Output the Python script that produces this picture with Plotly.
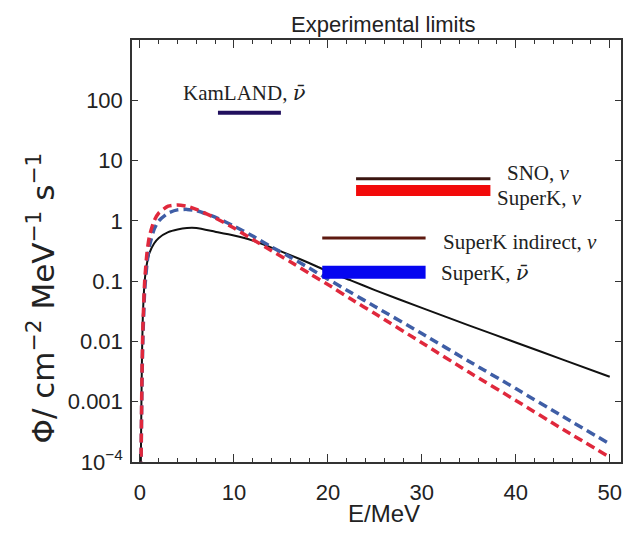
import math
import plotly.graph_objects as go

# ---- model spectra ----
E = [0.05, 0.1, 0.2, 0.3, 0.5, 0.75, 1, 1.5, 2, 3, 4, 5, 6, 8, 10, 12, 14, 16, 18,
     20, 22.5, 25, 30, 35, 40, 45, 50]
flux_solid = [1e-5, 1.5e-4, 0.004, 0.025, 0.1, 0.2, 0.29, 0.42, 0.52, 0.65, 0.72, 0.76,
              0.76, 0.66, 0.57, 0.47, 0.36, 0.27, 0.2, 0.145, 0.102, 0.071, 0.036,
              0.0185, 0.0096, 0.005, 0.0026]
flux_red = [1e-6, 5e-5, 0.002, 0.015, 0.1, 0.3, 0.55, 1.0, 1.35, 1.75, 1.84, 1.75, 1.55,
            1.12, 0.76, 0.49, 0.32, 0.21, 0.135, 0.088, 0.05, 0.029, 0.0095, 0.0031,
            0.00105, 0.00035, 0.00012]
flux_blue = [1e-6, 4e-5, 0.0015, 0.01, 0.07, 0.2, 0.38, 0.72, 1.0, 1.35, 1.52, 1.55, 1.48,
             1.15, 0.82, 0.56, 0.37, 0.25, 0.165, 0.108, 0.064, 0.038, 0.0135, 0.0047,
             0.00165, 0.00057, 0.0002]

# ---- experimental limits ----
limit_Emin = [8.3, 23.0, 23.0, 19.4, 19.4]
limit_Emax = [15.0, 37.3, 37.3, 30.4, 30.4]
limit_flux = [62, 5.0, 3.2, 0.52, 0.14]
limit_colors = ["#21105e", "#3a1510", "#f20a0a", "#5e1a10", "#0505f0"]
limit_widths = [4, 3, 11, 3, 13]

NUBAR = "<span style='font-family:DejaVu Serif'><i>ν̄</i></span>"
NU = "<i>ν</i>"
label_texts = ["KamLAND, " + NUBAR, "SNO, " + NU, "SuperK, " + NU,
               "SuperK indirect, " + NU, "SuperK, " + NUBAR]
label_E = [11.1, 38.9, 37.8, 32.0, 31.8]
label_flux = [132, 6.2, 2.4, 0.45, 0.137]
label_anchor = ["center", "left", "left", "left", "left"]

y_tickvals = [1e-4, 1e-3, 1e-2, 0.1, 1, 10, 100]
y_ticktext = ["10<sup>−4</sup>", "0.001", "0.01", "0.1", "1", "10", "100"]
x_tickvals = [0, 10, 20, 30, 40, 50]

fig = go.Figure()
fig.add_trace(go.Scatter(x=E, y=flux_solid, mode="lines",
                         line=dict(color="#111111", width=2, shape="spline", smoothing=0.6)))
fig.add_trace(go.Scatter(x=E, y=flux_blue, mode="lines",
                         line=dict(color="#3f5ea6", width=3.5, dash="9px,5px",
                                   shape="spline", smoothing=0.6)))
fig.add_trace(go.Scatter(x=E, y=flux_red, mode="lines",
                         line=dict(color="#e0283c", width=3.5, dash="9px,5px",
                                   shape="spline", smoothing=0.6)))

for x0, x1, v, c, w in zip(limit_Emin, limit_Emax, limit_flux, limit_colors, limit_widths):
    fig.add_trace(go.Scatter(x=[x0, x1], y=[v, v], mode="lines",
                             line=dict(color=c, width=w)))

for t, xe, yf, anc in zip(label_texts, label_E, label_flux, label_anchor):
    fig.add_annotation(x=xe, y=math.log10(yf), xref="x", yref="y", text=t,
                       showarrow=False, xanchor=anc, yanchor="middle",
                       font=dict(family="Liberation Serif", size=21, color="#222222"))

axis_font = dict(family="Liberation Sans", size=22, color="#222222")
fig.add_annotation(text="Experimental limits", xref="paper", yref="paper",
                   x=0.515, y=1.036, showarrow=False, xanchor="center", yanchor="middle",
                   font=dict(family="Liberation Sans", size=22, color="#222222"))
fig.add_annotation(text="E/MeV", xref="paper", yref="paper", x=0.515, y=-0.121,
                   showarrow=False, xanchor="center", yanchor="middle",
                   font=dict(family="Liberation Sans", size=24, color="#222222"))
fig.add_annotation(text="Φ/ cm<sup>−2</sup> MeV<sup>−1</sup> s<sup>−1</sup>",
                   xref="paper", yref="paper", x=-0.187, y=0.389, textangle=-90,
                   showarrow=False, xanchor="center", yanchor="middle",
                   font=dict(family="DejaVu Sans", size=31, color="#222222"))

fig.update_layout(width=630, height=544, margin=dict(l=132, r=7, t=40, b=82),
                  plot_bgcolor="white", paper_bgcolor="white", showlegend=False)
fig.update_xaxes(range=[-0.85, 51.2], tickvals=x_tickvals, ticks="inside", ticklen=8,
                 tickwidth=1.2, tickcolor="#333333", mirror="allticks", showline=True,
                 linecolor="#333333", linewidth=1.5, showgrid=False, zeroline=False,
                 tickfont=axis_font, ticklabelstandoff=10,
                 minor=dict(dtick=2, tick0=0, ticks="inside", ticklen=4,
                            tickcolor="#333333", showgrid=False))
fig.update_yaxes(type="log", range=[-4, 3], tickvals=y_tickvals, ticktext=y_ticktext,
                 ticks="inside", ticklen=6, tickwidth=1.2, tickcolor="#333333",
                 mirror="allticks", showline=True, linecolor="#333333", linewidth=1.5,
                 showgrid=False, zeroline=False, tickfont=axis_font, ticklabelstandoff=3)

fig.write_html("out.html")
